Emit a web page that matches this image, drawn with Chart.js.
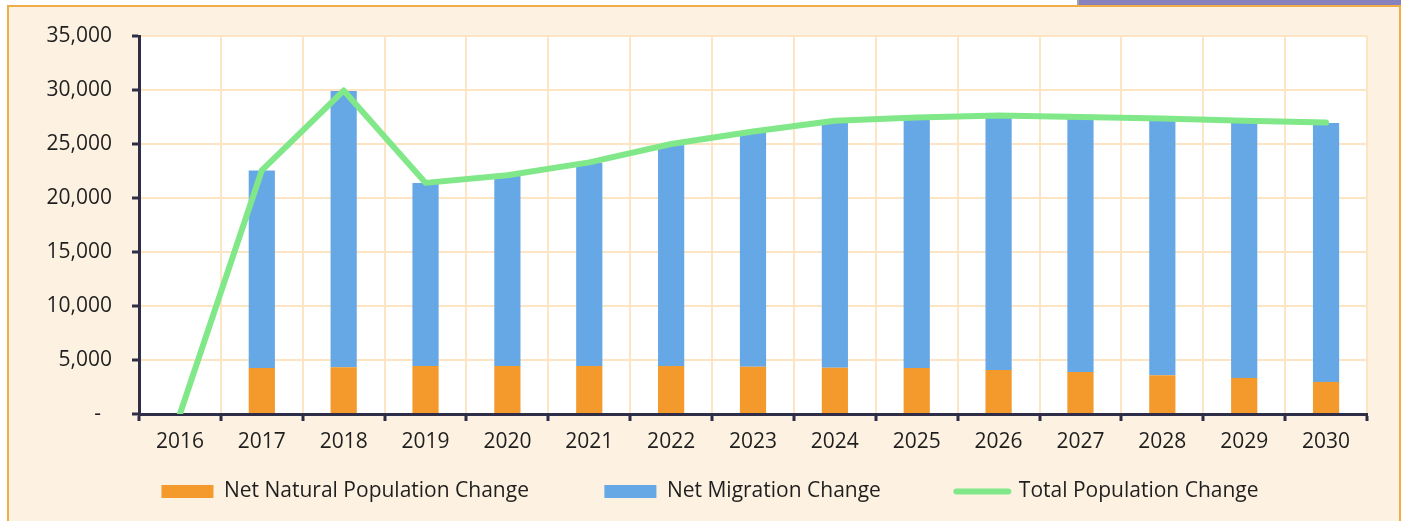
<!DOCTYPE html>
<html>
<head>
<meta charset="utf-8">
<script src="https://cdn.jsdelivr.net/npm/chart.js@4.4.1/dist/chart.umd.min.js"></script>
<style>
  html, body { margin: 0; padding: 0; background: #fff; width: 1401px; height: 521px; overflow: hidden; }
  #tab { position: absolute; left: 1077px; top: 0; width: 324px; height: 6px; background: #8782BE; border-left: 2px solid #a0a0a8; }
  #panel { position: absolute; left: 7px; top: 5px; width: 1390px; height: 540px; background: #FDF1E1; border: 2px solid #F0AC45; }
  #popChart { position: absolute; left: 0; top: 0; }
</style>
</head>
<body>
<div id="tab"></div>
<div id="panel">
  <canvas id="popChart" width="1389" height="514"></canvas>
</div>
<script>
const years = ['2016', '2017', '2018', '2019', '2020', '2021', '2022', '2023', '2024', '2025', '2026', '2027', '2028', '2029', '2030'];
const naturalChange = [null, 4260, 4320, 4450, 4450, 4450, 4450, 4380, 4290, 4260, 4080, 3890, 3580, 3340, 2970];
const migrationChange = [null, 18290, 25580, 16950, 17600, 18800, 20450, 21700, 22750, 23100, 23450, 23480, 23680, 23720, 23980];
const totalChange = [0, 22550, 29950, 21400, 22100, 23300, 25000, 26150, 27150, 27450, 27650, 27500, 27350, 27150, 26980];
const yTicks = [0, 5000, 10000, 15000, 20000, 25000, 30000, 35000];

const fontFamily = "'Open Sans', 'Noto Sans', sans-serif";
const textColor = '#1f1f1f';
const axisColor = '#2f2e48';
const gridColor = '#FDE5C3';

const plotBackground = {
  id: 'plotBackground',
  beforeDraw(chart) {
    const { ctx, chartArea } = chart;
    ctx.save();
    ctx.fillStyle = '#ffffff';
    ctx.fillRect(chartArea.left, chartArea.top, chartArea.right - chartArea.left, chartArea.bottom - chartArea.top);
    ctx.restore();
  }
};

// nudge the legend a bit to the right, as in the original
const legendShift = {
  id: 'legendShift',
  afterLayout(chart) {
    chart.legend.left += 22;
    chart.legend.right += 22;
  }
};

const data = {
  labels: years,
  datasets: [
    {
      type: 'bar',
      label: 'Net Natural Population Change',
      data: naturalChange,
      backgroundColor: '#F4992B',
      barPercentage: 0.32,
      categoryPercentage: 1.0
    },
    {
      type: 'bar',
      label: 'Net Migration Change',
      data: migrationChange,
      backgroundColor: '#66A7E6',
      barPercentage: 0.32,
      categoryPercentage: 1.0
    },
    {
      type: 'line',
      label: 'Total Population Change',
      data: totalChange,
      borderColor: '#80E888',
      backgroundColor: '#80E888',
      borderWidth: 6,
      borderCapStyle: 'round',
      borderJoinStyle: 'round',
      pointRadius: 0,
      tension: 0,
      fill: false,
      order: -1
    }
  ]
};

// extra gap after the first two legend entries
const legendGap = '            ';

const config = {
  data: data,
  plugins: [plotBackground, legendShift],
  options: {
    responsive: false,
    animation: false,
    layout: { padding: { top: 29, right: 31, left: 0, bottom: 9 } },
    plugins: {
      tooltip: { enabled: false },
      legend: {
        position: 'bottom',
        labels: {
          usePointStyle: true,
          pointStyleWidth: 52,
          boxHeight: 13,
          padding: 10,
          color: textColor,
          font: { family: fontFamily, size: 21 },
          sort: (a, b) => a.datasetIndex - b.datasetIndex,
          generateLabels(chart) {
            const items = Chart.defaults.plugins.legend.labels.generateLabels(chart);
            items.forEach(item => {
              if (item.datasetIndex === 2) {
                item.pointStyle = 'line';
                item.lineWidth = 6;
                item.lineCap = 'round';
              } else {
                item.pointStyle = 'rect';
                item.text = item.text + legendGap;
              }
            });
            return items;
          }
        }
      }
    },
    scales: {
      x: {
        stacked: true,
        offset: true,
        afterFit(scale) { scale.height = 57; },
        border: { color: axisColor, width: 3 },
        grid: { offset: true, color: gridColor, lineWidth: 2, tickColor: axisColor, tickLength: 7, tickWidth: 3 },
        ticks: { color: textColor, font: { family: fontFamily, size: 21 }, padding: 8, maxRotation: 0 }
      },
      y: {
        stacked: true,
        min: 0,
        max: 35000,
        afterFit(scale) {
          scale.width = 130;
          scale.paddingTop = 0;
          scale.paddingBottom = 0;
        },
        afterBuildTicks(scale) { scale.ticks = yTicks.map(v => ({ value: v })); },
        border: { color: axisColor, width: 3 },
        grid: { color: gridColor, lineWidth: 2, tickColor: axisColor, tickLength: 7, tickWidth: 3 },
        ticks: {
          color: textColor,
          font: { family: fontFamily, size: 21 },
          padding: 20,
          callback: v => v === 0 ? '-  ' : v.toLocaleString('en-US')
        }
      }
    }
  }
};

const popChart = new Chart(document.getElementById('popChart'), config);
</script>
</body>
</html>
